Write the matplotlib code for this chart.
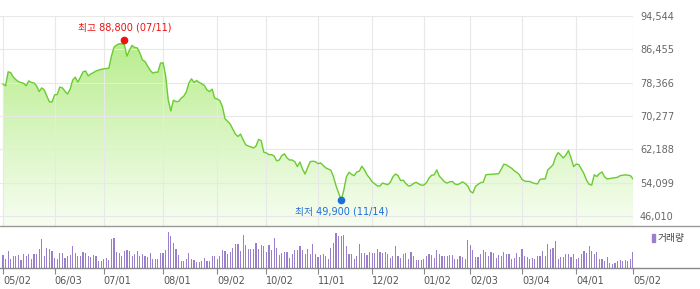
import numpy as np
import matplotlib
matplotlib.use("Agg")
import matplotlib.pyplot as plt
from matplotlib.lines import Line2D
from matplotlib.patches import Rectangle
from matplotlib.ticker import FuncFormatter

plt.rcParams['font.family'] = ['DejaVu Sans', 'Noto Sans CJK KR']

# daily close, one value per trading day (05/02 .. 05/02)
close = [
    78000, 77600, 81000, 80800, 79700, 79100, 78600, 78400, 78200, 77600,
    78800, 78400, 78300, 77600, 76200, 77100, 76600, 75100, 73700, 73700,
    75400, 75500, 77300, 77100, 76300, 75600, 76800, 79000, 79700, 78500,
    79700, 81000, 81200, 80000, 80500, 80800, 81200, 81400, 81600, 81700,
    81800, 81900, 84800, 87000, 87500, 87800, 87800, 87600, 84800, 86300,
    87400, 86900, 86800, 85600, 83900, 83500, 82400, 81400, 80700, 80900,
    80900, 83100, 83200, 80000, 74200, 71500, 74100, 73800, 73800, 74600,
    75100, 76100, 78300, 79300, 78400, 78900, 78400, 78100, 77700, 76600,
    76200, 76800, 74600, 74400, 74000, 72500, 69600, 69000, 68300, 67100,
    65900, 65300, 65900, 64500, 63300, 63000, 62800, 62500, 63000, 64600,
    64300, 61500, 61300, 60900, 60900, 60600, 59400, 59600, 60700, 61100,
    60100, 59600, 59600, 59200, 58000, 59100, 57400, 56200, 57800, 59200,
    59300, 59200, 58700, 58900, 58300, 57700, 57400, 57100, 55500, 53300,
    51600, 49900, 52300, 55500, 56600, 56100, 55800, 56700, 56900, 58100,
    57200, 56000, 55200, 54300, 53800, 53300, 53300, 54000, 53800, 53600,
    54200, 55500, 56200, 55800, 54600, 54700, 53900, 53300, 53400, 53900,
    54200, 53800, 53500, 53500, 54100, 55200, 55900, 56000, 57200, 55700,
    55000, 54300, 54000, 54300, 54400, 53800, 53600, 53900, 54300, 53900,
    53300, 52000, 51600, 53200, 53700, 54100, 54200, 56000, 56100, 56100,
    56200, 56200, 56300, 57400, 58600, 58400, 58000, 57600, 57000, 56600,
    56000, 54900, 54500, 54400, 54400, 54100, 53900, 53800, 54900, 55000,
    55000, 57200, 57800, 58400, 60300, 61400, 60800, 60100, 60800, 61900,
    60100, 58000, 58600, 58500, 57400, 56300, 54700, 53700, 53500, 56000,
    55600, 56300, 56700, 55500, 55000, 55100, 55200, 55300, 55400, 55800,
    55900, 56000, 55900, 55800, 55000,
]

# daily volume (relative units)
volume = [
    40, 28, 52, 28, 37, 35, 38, 25, 42, 35,
    41, 28, 42, 42, 57, 88, 37, 61, 58, 52,
    30, 28, 46, 44, 31, 35, 40, 67, 46, 37,
    37, 49, 44, 37, 32, 40, 37, 22, 22, 27,
    31, 25, 88, 91, 49, 44, 37, 51, 55, 51,
    35, 42, 51, 37, 42, 35, 33, 44, 28, 28,
    28, 44, 44, 55, 108, 95, 75, 58, 40, 22,
    22, 27, 46, 27, 25, 17, 17, 21, 31, 22,
    22, 35, 35, 28, 35, 55, 52, 42, 49, 61,
    73, 73, 52, 100, 70, 58, 57, 58, 76, 57,
    70, 65, 49, 70, 55, 90, 61, 40, 46, 49,
    49, 31, 42, 55, 55, 65, 55, 42, 57, 42,
    73, 42, 32, 40, 42, 35, 28, 61, 76, 105,
    97, 97, 100, 65, 43, 43, 28, 35, 73, 46,
    46, 40, 49, 46, 46, 58, 49, 46, 49, 42,
    31, 35, 67, 35, 31, 42, 46, 28, 49, 35,
    25, 23, 23, 28, 37, 41, 40, 31, 55, 43,
    35, 37, 37, 40, 40, 27, 28, 37, 32, 27,
    85, 68, 55, 34, 34, 42, 55, 49, 35, 49,
    46, 31, 40, 37, 49, 42, 43, 28, 31, 46,
    34, 58, 37, 33, 27, 30, 27, 37, 37, 50,
    35, 73, 57, 61, 81, 28, 34, 34, 42, 43,
    32, 42, 28, 30, 43, 50, 45, 67, 52, 42,
    47, 28, 28, 20, 32, 15, 12, 15, 20, 23,
    20, 25, 20, 27, 47,
]

tick_days = [0, 20, 39, 62, 83, 102, 122, 143, 163, 181, 201, 222, 244]
tick_labels = ['05/02', '06/03', '07/01', '08/01', '09/02', '10/02', '11/01',
               '12/02', '01/02', '02/03', '03/04', '04/01', '05/02']
price_ticks = [46010, 54099, 62188, 70277, 78366, 86455, 94544]

high_day, high_val, high_text = 47, 88800, '최고 88,800 (07/11)'
low_day, low_val, low_text = 131, 49900, '최저 49,900 (11/14)'

days = np.arange(len(close))
xlim = (-1.16, 244)
ylim = (43583, 94544)

fig = plt.figure(figsize=(7, 2.89), dpi=100)
W, H = 700.0, 289.0
ax = fig.add_axes([0, 1 - 226 / H, 633 / W, 210 / H])
axv = fig.add_axes([0, 1 - 268 / H, 633 / W, 42 / H])

# price panel
ax.set_xlim(*xlim)
ax.set_ylim(*ylim)
top = np.array([0.69, 0.92, 0.50])
bot = np.array([0.97, 0.995, 0.95])
t = np.linspace(0, 1, 256).reshape(-1, 1, 1)
grad = bot + (top - bot) * t
im = ax.imshow(grad, extent=[xlim[0], xlim[1], ylim[0], ylim[1]],
               aspect='auto', origin='lower', zorder=1)
poly = ax.fill_between(days, close, ylim[0], facecolor='none', edgecolor='none')
im.set_clip_path(poly.get_paths()[0], ax.transData)
ax.plot(days, close, color='#6acb32', lw=1.0, zorder=3)
ax.set_xlim(*xlim)
ax.set_ylim(*ylim)

ax.set_xticks(tick_days)
ax.set_xticklabels([])
ax.set_yticks(price_ticks)
ax.yaxis.set_major_formatter(FuncFormatter(lambda v, p: f'{int(v):,}'))
ax.yaxis.tick_right()
ax.tick_params(axis='both', length=0)
ax.tick_params(axis='y', labelsize=7, labelcolor='#666666', pad=5)
ax.grid(True, color='#e8e8e8', lw=0.8, zorder=2)
ax.set_axisbelow(False)
for s in ax.spines.values():
    s.set_visible(False)

ax.plot([high_day], [high_val], 'o', color='#ee1111', ms=4.5, zorder=4)
ax.annotate(high_text, (high_day, high_val), xytext=(0, 9), textcoords='offset points',
            ha='center', va='center', fontsize=7, color='#ee1111')
ax.plot([low_day], [low_val], 'o', color='#1b6fd8', ms=4.5, zorder=4)
ax.annotate(low_text, (low_day, low_val), xytext=(0, -8.5), textcoords='offset points',
            ha='center', va='center', fontsize=7, color='#1b6fd8')

# volume panel
axv.bar(days, volume, width=0.45, color='#9a80cc')
axv.set_xlim(*xlim)
axv.set_ylim(0, 126)
axv.set_yticks([])
axv.set_xticks(tick_days)
axv.set_xticklabels(tick_labels, ha='left')
axv.tick_params(axis='x', length=4, color='#888888', labelsize=7,
                labelcolor='#555555', pad=2)
for s in axv.spines.values():
    s.set_visible(False)

fig.add_artist(Line2D([0, 1], [1 - 226 / H, 1 - 226 / H], color='#999999', lw=1.0))
fig.add_artist(Line2D([0, 1], [1 - 268 / H, 1 - 268 / H], color='#888888', lw=1.0))

fig.add_artist(Rectangle((652 / W, 1 - 242 / H), 3 / W, 8 / H,
                         transform=fig.transFigure, color='#9a80cc'))
fig.text(658 / W, 1 - 238 / H, '거래량', fontsize=7, color='#444444', va='center')

fig.savefig('out.png', dpi=100, facecolor='white')
